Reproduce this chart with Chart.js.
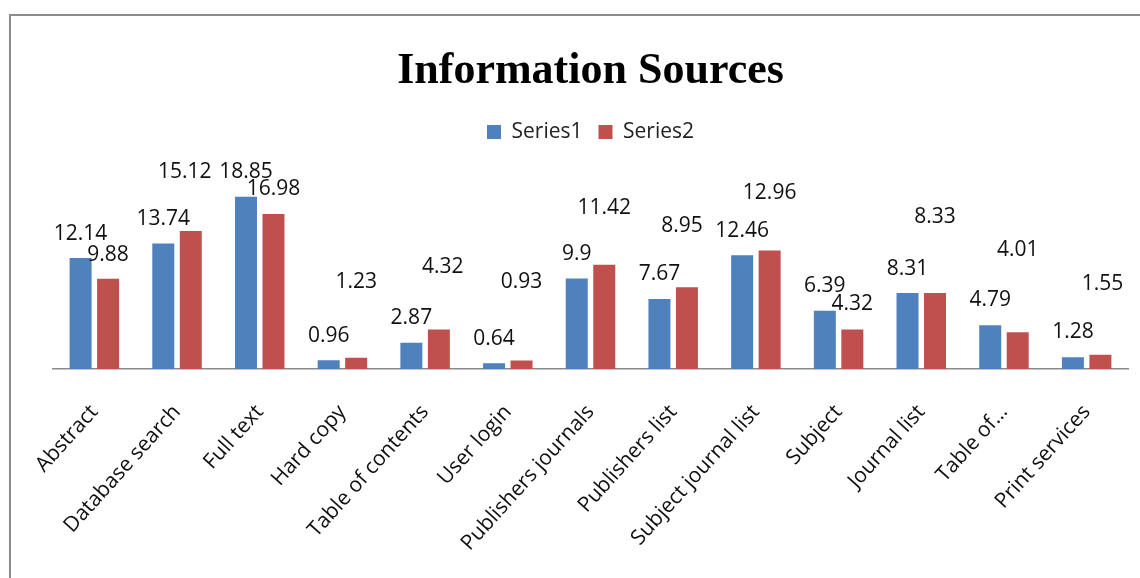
<!DOCTYPE html>
<html>
<head>
<meta charset="utf-8">
<title>Information Sources</title>
<script src="https://cdn.jsdelivr.net/npm/chart.js@4.4.1/dist/chart.umd.min.js"></script>
<style>
  html, body { margin: 0; padding: 0; background: #fff; }
  #wrap { position: relative; width: 1140px; height: 578px; overflow: hidden; }
  #frame { position: absolute; left: 9px; top: 14px; width: 1200px; height: 700px; border: 2px solid #8c8c8c; box-sizing: border-box; }
  #chart-box { position: absolute; left: 0; top: 0; width: 1140px; height: 578px; }
</style>
</head>
<body>
<div id="wrap">
  <div id="frame"></div>
  <div id="chart-box"><canvas id="sources-chart"></canvas></div>
</div>
<script>
// data
const categories = ['Abstract', 'Database search', 'Full text', 'Hard copy', 'Table of contents',
  'User login', 'Publishers journals', 'Publishers list', 'Subject journal list', 'Subject',
  'Journal list', 'Table of…', 'Print services'];
const series1 = [12.14, 13.74, 18.85, 0.96, 2.87, 0.64, 9.9, 7.67, 12.46, 6.39, 8.31, 4.79, 1.28];
const series2 = [9.88, 15.12, 16.98, 1.23, 4.32, 0.93, 11.42, 8.95, 12.96, 4.32, 8.33, 4.01, 1.55];

// where each value label sits above its bar (px), the way the original placed them
const series1Lift = [26, 26, 26, 26, 26, 26, 26, 26, 26, 26, 26, 27, 27];
const series2Lift = [25, 60, 26, 77, 64, 80, 58, 63, 59, 27, 77, 84, 72];
const series1Shift = [0, 0, 0, 0, 0, 0, 0, 0, 0, 0, 0, 0, 0];
const series2Shift = [0, -6, 0, 0, 4, 0, 0, -5, 0, 0, 0, 0, 2];

const BLUE = '#4F81BD';
const RED = '#C0504D';
const Y_MAX = 23.7;

/**
 * Draw the value labels above the bars
 */
const barLabels = {
    id: 'barLabels',
    afterDatasetsDraw(chart) {
        const ctx = chart.ctx;
        const lifts = [series1Lift, series2Lift];
        const shifts = [series1Shift, series2Shift];
        ctx.save();
        ctx.font = '21px "Open Sans"';
        ctx.fillStyle = '#111';
        ctx.textAlign = 'center';
        ctx.textBaseline = 'alphabetic';
        chart.data.datasets.forEach((ds, i) => {
            const meta = chart.getDatasetMeta(i);
            meta.data.forEach((bar, j) => {
                ctx.fillText(String(ds.data[j]), bar.x + shifts[i][j], bar.y - lifts[i][j] + 7.5);
            });
        });
        ctx.restore();
    }
};

const ctx = document.getElementById('sources-chart');

new Chart(ctx, {
    type: 'bar',
    data: {
        labels: categories,
        datasets: [{
            label: 'Series1',
            data: series1,
            backgroundColor: BLUE,
            borderWidth: 0
        }, {
            label: 'Series2',
            data: series2,
            backgroundColor: RED,
            borderWidth: 0
        }]
    },
    options: {
        responsive: true,
        maintainAspectRatio: false,
        animation: false,
        categoryPercentage: 0.665,
        barPercentage: 0.8,
        layout: {
            padding: { left: 53, right: 12, top: 0, bottom: 0 }
        },
        plugins: {
            title: {
                display: true,
                text: 'Information Sources',
                color: '#000',
                font: { family: '"Liberation Serif", "Times New Roman", serif', size: 44, weight: 'bold' },
                padding: { top: 45, bottom: 7.7 }
            },
            legend: {
                display: true,
                position: 'top',
                labels: {
                    boxWidth: 14,
                    boxHeight: 14,
                    padding: 16,
                    color: '#222',
                    font: { family: '"Open Sans"', size: 21 }
                }
            },
            tooltip: { enabled: false }
        },
        scales: {
            x: {
                grid: { display: false, drawTicks: false },
                border: { display: true, color: '#8a8a8a', width: 1.5 },
                ticks: {
                    autoSkip: false,
                    minRotation: 48,
                    maxRotation: 48,
                    padding: 31,
                    color: '#111',
                    font: { family: '"Open Sans"', size: 21 }
                },
                afterFit: (scale) => { scale.height = 209; }
            },
            y: {
                display: false,
                beginAtZero: true,
                min: 0,
                max: Y_MAX
            }
        }
    },
    plugins: [barLabels]
});
</script>
</body>
</html>
